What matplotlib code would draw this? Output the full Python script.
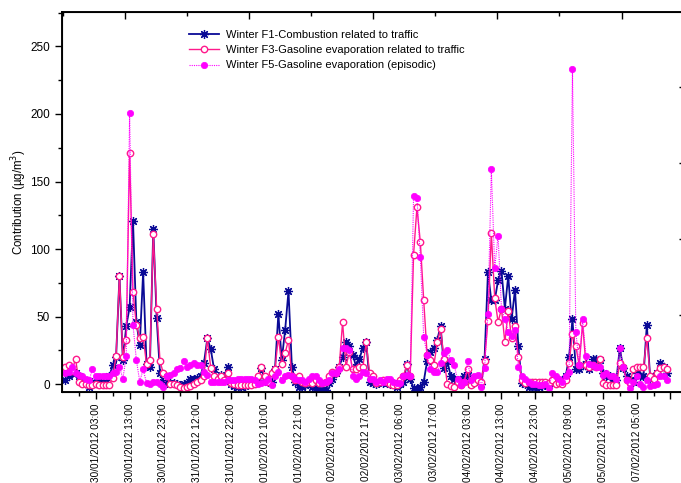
import numpy as np
import matplotlib
matplotlib.use("Agg")
import matplotlib.pyplot as plt
from matplotlib.ticker import MultipleLocator, FixedLocator, NullFormatter

plt.rcParams['font.family'] = ['Liberation Sans', 'DejaVu Sans']

# Hourly source contributions (µg/m³), samples 1..179
f1_combustion = [
    3, 6, 8, 8, 6, 2, 1, -2, 2, 1, 3, 1, 2, 6, 14, 20, 80, 18, 43, 57,
    121, 46, 29, 83, 15, 13, 115, 49, 8, 2, 1, 1, 1, 0, -0.5, 0, 1, 4, 4, 4.5,
    6, 16, 34, 26, 11, 4, 7, 6, 13, 0, -1, -2, -2, -1, 0, 0, 1, 3, 12, 3,
    2, 2, 11, 52, 18, 40, 69, 13, 2, -2, -2, -0.5, 1, -2, -3, -4, -4, -4, 1, 4,
    8, 13, 20, 31, 28, 22, 13, 19, 27, 31, 2, 1, 0, 2, 1, 1, 0, 1, -2, 0,
    2, 15, 4, -3, -4, -2, 2, 17, 24, 27, 33, 43, 12, 17, 6, 4, 3, 2, 6, 7,
    0, 2, 3, 0, 19, 83, 62, 62, 77, 84, 56, 80, 48, 70, 28, 1, 0, -2, -2, -2,
    -2, -1, 0, -0.5, 2, 2, 3, 3, 6, 20, 48, 11, 11, 14, 15, 11, 19, 19, 18, 8,
    6, 6, 4, 3, 27, 12, 6, 3, 2, 8, 6, 6, 44, 4, 6, 8, 16, 13, 8,
]
f3_gasoline_evap = [
    13, 14, 10, 19, 2, 0, 0, -0.5, -0.5, 0, -0.5, -0.5, -0.5, -0.5, 5, 21, 80, 20, 33, 171,
    68, 44, 34, 35, 15, 18, 111, 56, 17, 8, 6, 0, 0, -0.5, -2, -3, -2, -1, 0, 2,
    3, 6, 34, 12, 6, 4, 6, 3, 8, 1, 0, -0.5, -0.5, -0.5, -0.5, -0.5, 0, 6, 13, 6,
    2, 8, 11, 35, 15, 23, 33, 6, 3, 6, 2, 1, 2, 1, 3, 1, 1, 2, 6, 9,
    8, 13, 46, 13, 24, 11, 11, 13, 13, 31, 8, 6, 1, 2, 3, 2, 0, -0.5, -0.5, 3,
    6, 14, 6, 96, 131, 105, 62, 22, 18, 14, 31, 41, 19, 0, -1, -2, 2, -0.5, 2, 11,
    -0.5, 1, 3, 2, 17, 47, 112, 64, 46, 56, 31, 54, 34, 43, 20, 3, 1, 2, 2, 2,
    2, 2, 2, 1, 3, 0, 1, 0, 3, 16, 37, 28, 14, 45, 14, 13, 14, 13, 19, 1,
    -0.5, -0.5, -0.5, -0.5, 16, 13, 3, 1, 11, 13, 13, 13, 34, 6, 4, 8, 12, 13, 11,
]
f5_gasoline_episodic = [
    8, 9, 13, 8, 7, 6, 4, 3, 11, 6, 6, 6, 6, 6, 8, 9, 13, 4, 21, 201,
    44, 18, 2, 11, 1, 0, 2, 2, 0, -2, 6, 7, 8, 11, 12, 17, 13, 14, 16, 14,
    14, 9, 7, 2, 2, 2, 2, 2, 3, 3, 3, 4, 4, 4, 4, 4, 3, 0, 1, 2,
    4, -0.5, 6, 9, 3, 6, 7, 6, 4, 3, 3, 2, 4, 6, 6, 3, 1, 2, 3, 8,
    8, 11, 27, 27, 25, 6, 4, 6, 9, 8, 4, 4, 2, 3, 2, 4, 4, 2, 1, 1,
    6, 7, 6, 139, 138, 94, 35, 22, 11, 9, 9, 16, 23, 25, 18, 14, 4, -0.5, 2, 17,
    3, 6, 7, -2, 12, 52, 159, 86, 110, 56, 48, 39, 36, 40, 13, 6, 4, 2, 0, 0,
    -0.5, -0.5, 0, -3, 8, 6, 4, 2, 6, 9, 233, 39, 14, 48, 21, 15, 14, 13, 13, 7,
    8, 6, 6, 4, 27, 13, 3, -3, 2, 6, 0, -2, 3, -1, -0.5, 0, 6, 6, 3,
]

# Date/time labels shown every 10 samples
time_labels = [
    "30/01/2012 03:00", "30/01/2012 13:00", "30/01/2012 23:00",
    "31/01/2012 12:00", "31/01/2012 22:00", "01/02/2012 10:00",
    "01/02/2012 21:00", "02/02/2012 07:00", "02/02/2012 17:00",
    "03/02/2012 06:00", "03/02/2012 17:00", "04/02/2012 03:00",
    "04/02/2012 13:00", "04/02/2012 23:00", "05/02/2012 09:00",
    "05/02/2012 19:00", "07/02/2012 05:00",
]

series_names = [
    "Winter F1-Combustion related to traffic",
    "Winter F3-Gasoline evaporation related to traffic",
    "Winter F5-Gasoline evaporation (episodic)",
]

x = np.arange(1, len(f1_combustion) + 1)
XLIM = (0, 183.7)
YLIM = (-5.7, 275.4)

W, H = 681, 483
fig = plt.figure(figsize=(W / 100, H / 100), dpi=100)
ax = fig.add_axes([62 / W, 1 - 392 / H, (683 - 62) / W, (392 - 12) / H])

ax.plot(x, f1_combustion, color='#0a0a96', lw=1.3, marker=(8, 2, 0), ms=6.5,
        mec='#0a0a96', mew=0.9, label=series_names[0], zorder=3)
ax.plot(x, f3_gasoline_evap, color='#ff1a8c', lw=1.0, marker='o', ms=4.6,
        mfc='white', mec='#ff1a8c', mew=1.0, label=series_names[1], zorder=4)
ax.plot(x, f5_gasoline_episodic, color='#ff00ff', lw=0.8, ls=(0, (1, 1)),
        marker='o', ms=4.6, mfc='#ff00ff', mec='#ff00ff', mew=0.5,
        label=series_names[2], zorder=5)

ax.set_xlim(*XLIM)
ax.set_ylim(*YLIM)

ax.yaxis.set_major_locator(MultipleLocator(50))
ax.yaxis.set_minor_locator(MultipleLocator(25))
ax.xaxis.set_major_locator(FixedLocator(np.arange(10, 181, 10)))
ax.xaxis.set_minor_locator(FixedLocator(np.arange(5, 181, 10)))
ax.set_xticklabels(time_labels + [""], rotation=90, fontsize=7.2)

ax.tick_params(axis='y', which='major', direction='out', length=5, width=1,
               labelsize=8.5)
ax.tick_params(axis='y', which='minor', direction='out', length=3, width=1)
ax.tick_params(axis='x', which='major', direction='out', length=5, width=1, pad=3)
ax.tick_params(axis='x', which='minor', direction='out', length=3, width=1)
for side in ['left', 'bottom', 'top', 'right']:
    ax.spines[side].set_linewidth(1.1)

# Unlabelled top frame ticks, pointing inward
tx = ax.twiny()
tx.set_xlim(*XLIM)
tx.xaxis.set_major_locator(FixedLocator(np.arange(0.2 + 18.37, 183, 36.74)))
tx.xaxis.set_minor_locator(FixedLocator(np.arange(0.2, 183, 36.74)))
tx.xaxis.set_major_formatter(NullFormatter())
tx.tick_params(which='major', direction='in', length=5, width=1)
tx.tick_params(which='minor', direction='in', length=3, width=1)
for s in tx.spines.values():
    s.set_linewidth(1.1)

# Unlabelled right frame ticks, pointing inward
ty = ax.twinx()
ty.set_ylim(*YLIM)
ty.yaxis.set_major_locator(FixedLocator([51.3, 107.5, 163.6, 220.0]))
ty.yaxis.set_major_formatter(NullFormatter())
ty.tick_params(direction='in', length=3, width=1)

ax.set_ylabel("Contribution (µg/m$^3$)", fontsize=8.3, labelpad=1)

fig.legend(loc='upper left', bbox_to_anchor=(189 / W, 1 - 30 / H),
           frameon=False, fontsize=8, handlelength=2.7, handletextpad=0.6,
           borderpad=0, borderaxespad=0, labelspacing=0.47, markerscale=1.0)

fig.savefig("out.png", dpi=100)
